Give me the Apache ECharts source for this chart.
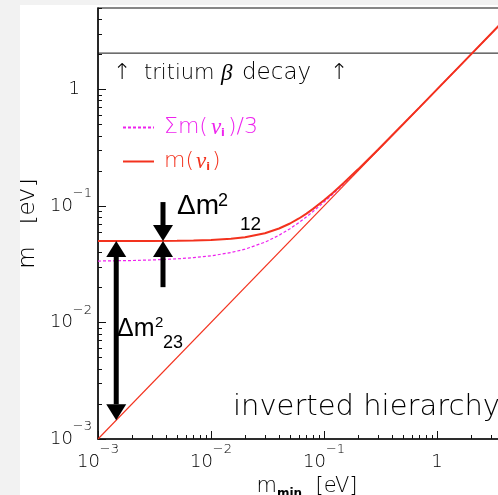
<!DOCTYPE html>
<html><head><meta charset="utf-8">
<script src="https://cdn.jsdelivr.net/npm/echarts@6/dist/echarts.min.js"></script>
<style>
html,body{margin:0;padding:0;background:#f2f2f2;width:498px;height:495px;overflow:hidden}
#c{position:absolute;left:20px;top:5px;width:478px;height:490px;background:#fff}
</style></head><body><div id="c"></div>
<script>
// ---- data ----
const mMin   = [0.001,0.002,0.003,0.005,0.007,0.01,0.015,0.02,0.03,0.04,0.05,0.06,0.07,0.08,0.1,0.12,0.15,0.2,0.3,0.5,0.7,1,2,5];
const mUpper = [0.05001,0.05004,0.05009,0.05025,0.05049,0.05099,0.0522,0.05385,0.05831,0.06403,0.07071,0.0781,0.08602,0.09434,0.1118,0.13,0.1581,0.2062,0.3041,0.5025,0.7018,1.0012,2.0006,5.0002];
const mAvg   = [0.03367,0.03403,0.03439,0.03517,0.03599,0.03733,0.0398,0.04257,0.04887,0.05602,0.06381,0.07207,0.08068,0.08956,0.10787,0.12667,0.1554,0.2041,0.3028,0.5017,0.7012,1.0008,2.0004,5.0001];
const diagX = [0.001, 5];
const diagY = [0.001, 5];
const tritiumLimit = 2.05;
const axisMin = 0.001, axisMax = 5;
const majorTicks = [0.001, 0.01, 0.1, 1];
const tickBase = ['10','10','10','1'];
const tickExp  = ['\u22123','\u22122','\u22121',''];
const minorTicks = [0.002,0.003,0.004,0.005,0.006,0.007,0.008,0.009,
                    0.02,0.03,0.04,0.05,0.06,0.07,0.08,0.09,
                    0.2,0.3,0.4,0.5,0.6,0.7,0.8,0.9,2,3,4,5];
// arrows: [x, yFrom, yTo, headAtFrom, headAtTo]
const arrowX    = [0.00145, 0.00376, 0.00376];
const arrowFrom = [0.05,    0.108,   0.0201];
const arrowTo   = [0.00145, 0.05,    0.05];
const arrowHeadFrom = [1, 0, 0];
const arrowHeadTo   = [1, 1, 1];
const legendNames = ['sum', 'm'];

const RED = '#f3321e', MAG = '#ee22ee';
const THIN = 'DejaVu Sans';
const INK = '#000';

const zip = (a, b) => a.map((v, i) => [v, b[i]]);

function labelFmt(yAxis) {
  return function (v) {
    let i = majorTicks.findIndex(t => Math.abs(Math.log10(t) - Math.log10(v)) < 1e-6);
    if (i < 0) return '';
    if (tickExp[i] === '') return (yAxis ? '{one|' : '{onex|') + tickBase[i] + '}';
    return '{b|' + tickBase[i] + '}{s|' + tickExp[i] + '}';
  };
}
const labelRich = {
  b: {fontFamily: THIN, fontWeight: 200, fontSize: 18, lineHeight: 37, color: INK},
  s: {fontFamily: THIN, fontWeight: 200, fontSize: 13, lineHeight: 13, verticalAlign: 'top', color: INK},
  one: {fontFamily: THIN, fontWeight: 200, fontSize: 18, lineHeight: 37, color: INK, padding: [0, 12, 0, 0]},
  onex: {fontFamily: THIN, fontWeight: 200, fontSize: 18, lineHeight: 37, color: INK}
};

function mainAxis(isY) {
  return {
    type: 'log', logBase: 10, min: axisMin, max: axisMax,
    position: isY ? 'left' : 'bottom',
    axisLine: {show: true, lineStyle: {color: '#111', width: 1.5}},
    axisTick: {show: true, inside: true, length: 8, customValues: majorTicks, lineStyle: {color: '#111', width: 1}},
    axisLabel: {show: true, customValues: majorTicks, formatter: labelFmt(isY), rich: labelRich,
                margin: isY ? 6 : 4.5},
    splitLine: {show: false}, minorTick: {show: false}, minorSplitLine: {show: false},
    name: isY ? '{t|m   [eV]}' : '{t|m}{sub|min}{t|  [eV]}',
    nameLocation: 'middle',
    nameGap: isY ? 54 : 33,
    nameTextStyle: {
      rich: {
        t: {fontFamily: THIN, fontWeight: 200, fontSize: isY ? 23 : 21, color: INK, lineHeight: 26},
        sub: {fontFamily: THIN, fontWeight: 'bold', fontSize: 12, color: INK, lineHeight: 12, verticalAlign: 'bottom'}
      }
    }
  };
}
function minorAxis(isY) {
  return {
    type: 'log', logBase: 10, min: axisMin, max: axisMax,
    position: isY ? 'left' : 'bottom',
    axisLine: {show: false},
    axisTick: {show: true, inside: true, length: 4, customValues: minorTicks, lineStyle: {color: '#111', width: 1}},
    axisLabel: {show: false},
    splitLine: {show: false}
  };
}

const txt = (x, y, s, size, extra) => Object.assign({type: 'text', x: x, y: y, z: 10,
  style: Object.assign({text: s, fontFamily: THIN, fontWeight: 200, fontSize: size, fill: INK, verticalAlign: 'middle'}, extra || {})});

const chart = echarts.init(document.getElementById('c'));
chart.setOption({
  animation: false,
  backgroundColor: '#fff',
  grid: {left: 78, top: 3, right: -18, bottom: 56, containLabel: false, outerBoundsMode: 'none',
         show: true, borderColor: '#111', borderWidth: 1.2, backgroundColor: 'transparent'},
  xAxis: [mainAxis(false), minorAxis(false)],
  yAxis: [mainAxis(true), minorAxis(true)],
  legend: {
    orient: 'vertical', left: 102, top: 111, padding: 0, itemWidth: 31, itemHeight: 14, itemGap: 11,
    data: legendNames,
    itemStyle: {color: 'rgba(0,0,0,0)', borderWidth: 0, opacity: 0},
    formatter: function (n) {
      if (n === 'sum') return '{ma0|\u03A3m(}{mn|\u03BD}{ms|i}{ma|)/3}';
      return '{ra0|m(}{rn|\u03BD}{rs|i}{ra|)}';
    },
    textStyle: {
      rich: {
        ma0: {fontFamily: THIN, fontWeight: 200, fontSize: 22, lineHeight: 22, color: MAG, padding: [0, 0, 0, 5]},
        ma: {fontFamily: THIN, fontWeight: 200, fontSize: 22, lineHeight: 22, color: MAG, padding: [0, 0, 0, 3]},
        mn: {fontFamily: 'Liberation Serif', fontStyle: 'italic', fontSize: 23, lineHeight: 22, color: MAG, padding: [0, 0, 0, 3]},
        ms: {fontFamily: THIN, fontWeight: 'bold', fontSize: 11, lineHeight: 10, verticalAlign: 'bottom', color: MAG},
        ra0: {fontFamily: THIN, fontWeight: 200, fontSize: 22, lineHeight: 22, color: RED, padding: [0, 0, 0, 5]},
        ra: {fontFamily: THIN, fontWeight: 200, fontSize: 22, lineHeight: 22, color: RED, padding: [0, 0, 0, 2]},
        rn: {fontFamily: 'Liberation Serif', fontStyle: 'italic', fontSize: 23, lineHeight: 22, color: RED, padding: [0, 0, 0, 2]},
        rs: {fontFamily: THIN, fontWeight: 'bold', fontSize: 11, lineHeight: 10, verticalAlign: 'bottom', color: RED}
      }
    }
  },
  series: [
    {name: 'limit', type: 'line', data: [[axisMin, tritiumLimit], [axisMax, tritiumLimit]], symbol: 'none',
     lineStyle: {color: '#111', width: 1}, silent: true, z: 1},
    {name: 'sum', type: 'line', data: zip(mMin, mAvg), symbol: 'none', color: MAG,
     lineStyle: {color: MAG, width: 1.2, type: [3, 2]}, z: 2},
    {name: 'm', type: 'line', data: zip(mMin, mUpper), symbol: 'none', color: RED,
     lineStyle: {color: RED, width: 2}, z: 3},
    {name: 'm', type: 'line', data: zip(diagX, diagY), symbol: 'none', color: RED,
     lineStyle: {color: RED, width: 1.1}, z: 3},
    {name: 'arrows', type: 'custom', z: 5, silent: true,
     data: arrowX.map((x, i) => [x, arrowFrom[i], arrowTo[i], arrowHeadFrom[i], arrowHeadTo[i]]),
     encode: {x: 0, y: [1, 2]},
     renderItem: function (params, api) {
       const x = api.value(0), y1 = api.value(1), y2 = api.value(2);
       const h1 = api.value(3), h2 = api.value(4);
       const p1 = api.coord([x, y1]), p2 = api.coord([x, y2]);
       const dir = p2[1] > p1[1] ? 1 : -1;
       const HL = 16, HW = 10, SW = 2.5;
       const s1 = p1[1] + (h1 ? dir * HL : 0);
       const s2 = p2[1] - (h2 ? dir * HL : 0);
       const ch = [{type: 'rect', shape: {x: p1[0] - SW, y: Math.min(s1, s2), width: 2 * SW, height: Math.abs(s2 - s1)}, style: {fill: '#000'}}];
       if (h2) ch.push({type: 'polygon', shape: {points: [[p2[0], p2[1]], [p2[0] - HW, p2[1] - dir * HL], [p2[0] + HW, p2[1] - dir * HL]]}, style: {fill: '#000'}});
       if (h1) ch.push({type: 'polygon', shape: {points: [[p1[0], p1[1]], [p1[0] - HW, p1[1] + dir * HL], [p1[0] + HW, p1[1] + dir * HL]]}, style: {fill: '#000'}});
       return {type: 'group', children: ch};
     }}
  ],
  graphic: [
    txt(102, 68.5, '\u2191', 22, {align: 'center'}),
    txt(124, 68.5, 'tritium', 21),
    txt(201, 68.5, '\u03B2', 23, {fontFamily: 'Liberation Serif', fontStyle: 'italic', fontWeight: 'normal'}),
    txt(222, 68.5, 'decay', 23),
    txt(319, 68.5, '\u2191', 22, {align: 'center'}),
    txt(213, 402, 'inverted hierarchy', 29),
    txt(157, 201, '\u0394m', 28, {fontFamily: 'Liberation Sans', fontWeight: 'normal', fill: '#000'}),
    txt(198, 196.5, '2', 18, {fontFamily: 'Liberation Sans', fontWeight: 'normal', fill: '#000'}),
    txt(220, 220, '12', 19, {fontFamily: 'Liberation Sans', fontWeight: 'normal', fill: '#000'}),
    txt(97, 324, '\u0394m', 25, {fontFamily: 'Liberation Sans', fontWeight: 'normal', fill: '#000'}),
    txt(135, 318, '2', 15, {fontFamily: 'Liberation Sans', fontWeight: 'normal', fill: '#000'}),
    txt(143, 338.5, '23', 18, {fontFamily: 'Liberation Sans', fontWeight: 'normal', fill: '#000'})
  ]
});
</script></body></html>
